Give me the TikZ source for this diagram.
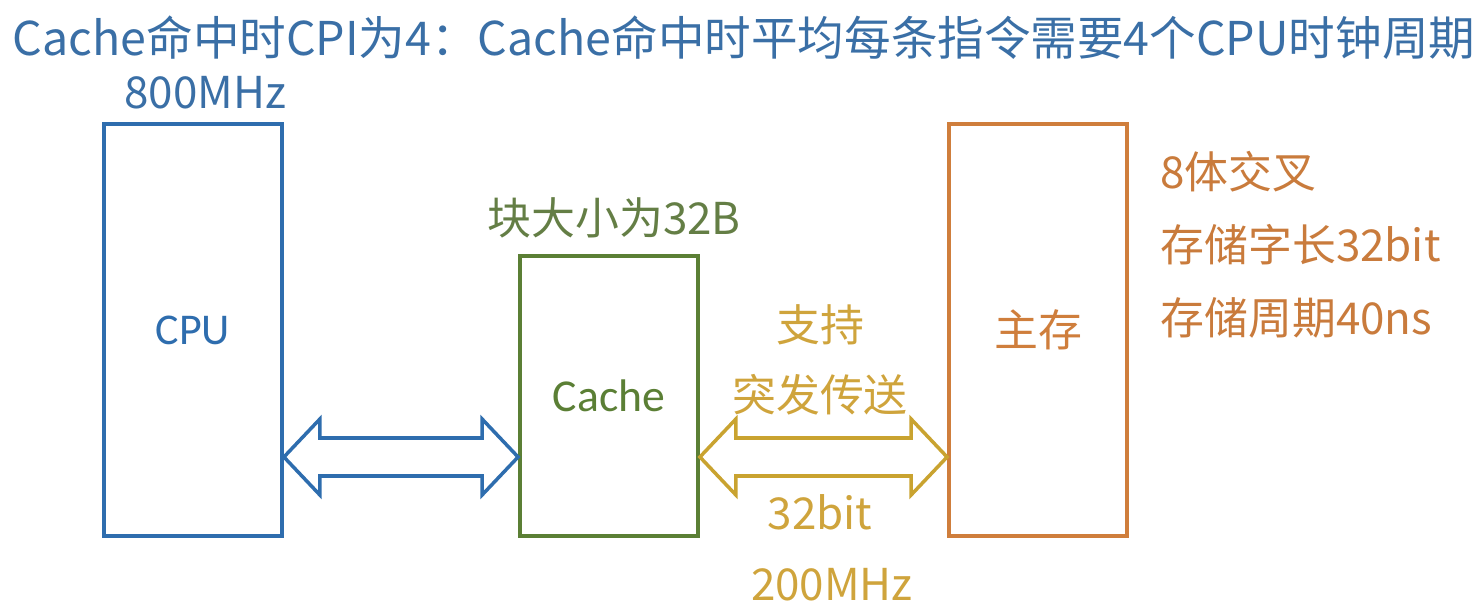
\documentclass[tikz,border=0pt]{standalone}
\usepackage{tikz}
\usetikzlibrary{positioning, calc}
\usepackage{fontspec}
\setsansfont{Carlito}
\newfontfamily\cjk{Noto Sans CJK SC}
\usepackage{xcolor}
\definecolor{cpublue}{HTML}{2E6DAE}
\definecolor{titleblue}{HTML}{3A6FA6}
\definecolor{cachegreen}{HTML}{5B7F35}
\definecolor{blockgreen}{HTML}{647E45}
\definecolor{busgold}{HTML}{C9A330}
\definecolor{textgold}{HTML}{CFA43C}
\definecolor{memorange}{HTML}{CF7E3C}
\definecolor{textorange}{HTML}{C97B3C}

% hollow two-headed bus arrow between two named points
\newcommand{\busarrow}[3]{%
  \draw[#3, line width=2pt, line join=miter, fill=white]
    (#1) -- ++(36,-38) -- ++(0,19) -- ($(#2)+(-36,-19)$) -- ++(0,-19)
    -- (#2) -- ++(-36,38) -- ++(0,-19) -- ($(#1)+(36,19)$) -- ++(0,19)
    -- cycle;}

\begin{document}
\begin{tikzpicture}[x=0.02cm, y=-0.02cm,
    unit/.style={draw, line width=2.2pt, fill=white, minimum width=3.56cm},
    lbl/.style={font=\cjk\fontsize{25}{30}\selectfont, inner sep=0pt}]
  \useasboundingbox (0,0) rectangle (1482,612);

  % title line
  \node[lbl, text=titleblue, font=\cjk\fontsize{26.5}{30}\selectfont] (title) at (744,38)
    {Cache命中时CPI为4：Cache命中时平均每条指令需要4个CPU时钟周期};

  % the three units
  \node[unit, draw=cpublue, minimum height=8.24cm, text=cpublue,
        font=\sffamily\fontsize{25}{30}\selectfont] (cpu) at (193,330) {CPU};
  \node[unit, draw=cachegreen, minimum height=5.6cm, text=cachegreen,
        font=\sffamily\fontsize{26}{30}\selectfont] (cache) at (609,396) {Cache};
  \node[unit, draw=memorange, minimum height=8.24cm, text=memorange,
        font=\cjk\fontsize{25}{30}\selectfont] (mem) at (1038,330) {主存};

  % labels
  \node[lbl, text=titleblue, anchor=west] (clk) at (124,93) {800MHz};
  \node[lbl, text=blockgreen, anchor=west] (blk) at (487,218) {块大小为32B};
  \node[lbl, text=textgold] (burst1) at (820,325) {支持};
  \node[lbl, text=textgold] (burst2) at (820,395) {突发传送};
  \node[lbl, text=textgold] (width) at (820,512) {32bit};
  \node[lbl, text=textgold] (freq) at (832,585) {200MHz};
  \node[lbl, text=textorange, anchor=west] (bank) at (1160,172) {8体交叉};
  \node[lbl, text=textorange, anchor=west] (word) at (1160,245) {存储字长32bit};
  \node[lbl, text=textorange, anchor=west] (cyc) at (1160,318) {存储周期40ns};

  % buses
  \coordinate (bus) at (0,457);
  \coordinate (b1) at (cpu.east |- bus);
  \coordinate (b2) at (cache.west |- bus);
  \coordinate (b3) at (cache.east |- bus);
  \coordinate (b4) at (mem.west |- bus);
  \busarrow{b1}{b2}{cpublue}
  \busarrow{b3}{b4}{busgold}
\end{tikzpicture}
\end{document}
